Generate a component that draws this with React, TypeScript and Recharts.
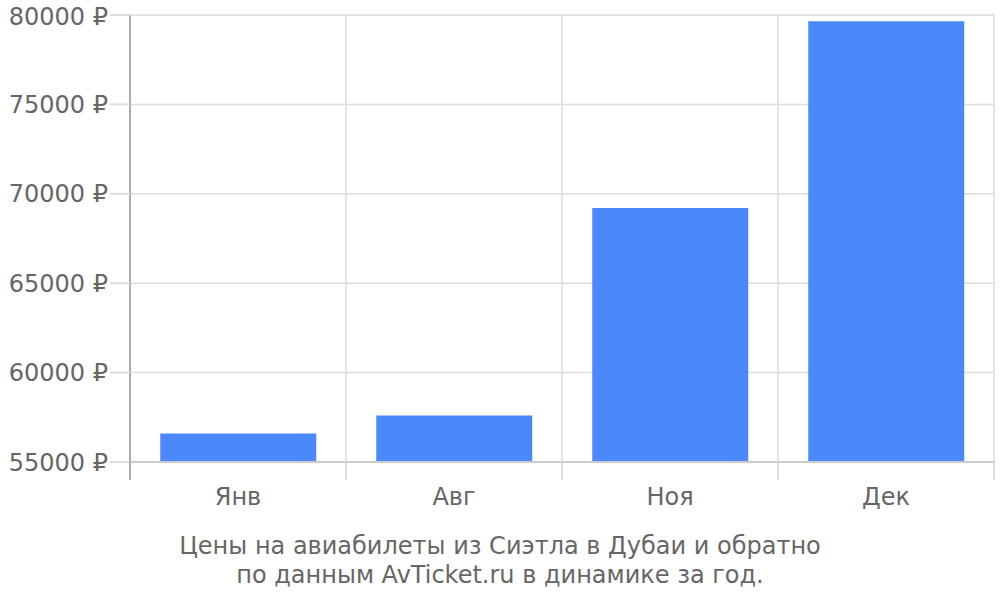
import { BarChart, Bar, XAxis, YAxis, CartesianGrid } from "recharts";

const months = ["Янв", "Авг", "Ноя", "Дек"];
const prices = [56600, 57600, 69200, 79650];
const yTicks = [55000, 60000, 65000, 70000, 75000, 80000];
const captionLines = [
  "Цены на авиабилеты из Сиэтла в Дубаи и обратно",
  "по данным AvTicket.ru в динамике за год.",
];

const data = months.map((m, i) => ({ month: m, price: prices[i] }));

const W = 1000;
const H = 600;
const margin = { top: 15, right: 6, left: 0, bottom: 78 };
const yAxisWidth = 130;
const plotWidth = W - margin.left - margin.right - yAxisWidth;
const halfBand = plotWidth / months.length / 2;

const FONT = "'DejaVu Sans', sans-serif";
const TEXT = "#666";

function MonthTick(props: any) {
  const { x, y, payload, index } = props;
  return (
    <g>
      {index === 0 && (
        <line x1={x - halfBand} x2={x - halfBand} y1={y} y2={y + 18} stroke="#aaa" strokeWidth={2} />
      )}
      <line x1={x + halfBand} x2={x + halfBand} y1={y} y2={y + 18} stroke="#ddd" strokeWidth={2} />
      <text x={x} y={y + 43} textAnchor="middle" fill={TEXT} fontSize={24} fontFamily={FONT}>
        {payload.value}
      </text>
    </g>
  );
}

export default function App() {
  return (
    <div style={{ position: "absolute", left: 0, top: 0, width: W, height: H, background: "#fff" }}>
      <BarChart width={W} height={H} data={data} margin={margin} barCategoryGap="14%">
        <CartesianGrid
          stroke="#ddd"
          strokeWidth={1.5}
          verticalCoordinatesGenerator={({ offset }: any) =>
            months.map((_, i) => offset.left + ((i + 1) * offset.width) / months.length)
          }
        />
        <XAxis
          dataKey="month"
          stroke="#ccc"
          strokeWidth={2}
          tickLine={false}
          tickSize={0}
          tickMargin={0}
          height={60}
          tick={<MonthTick />}
          interval={0}
        />
        <YAxis
          width={yAxisWidth}
          domain={[55000, 80000]}
          ticks={yTicks}
          allowDataOverflow
          axisLine={{ stroke: "#aaa", strokeWidth: 2 }}
          tickLine={{ stroke: "#ddd", strokeWidth: 2 }}
          tickSize={20}
          tickMargin={2}
          tick={{ fill: TEXT, fontSize: 24, fontFamily: FONT }}
          tickFormatter={(v: number) => `${v} ₽`}
        />
        <Bar dataKey="price" fill="#4b89fa" isAnimationActive={false} />
      </BarChart>
      <div
        style={{
          position: "absolute",
          left: 0,
          top: 532,
          width: W,
          textAlign: "center",
          color: TEXT,
          fontFamily: FONT,
          fontSize: 24,
          lineHeight: "29px",
        }}
      >
        {captionLines.map((l) => (
          <div key={l}>{l}</div>
        ))}
      </div>
    </div>
  );
}
